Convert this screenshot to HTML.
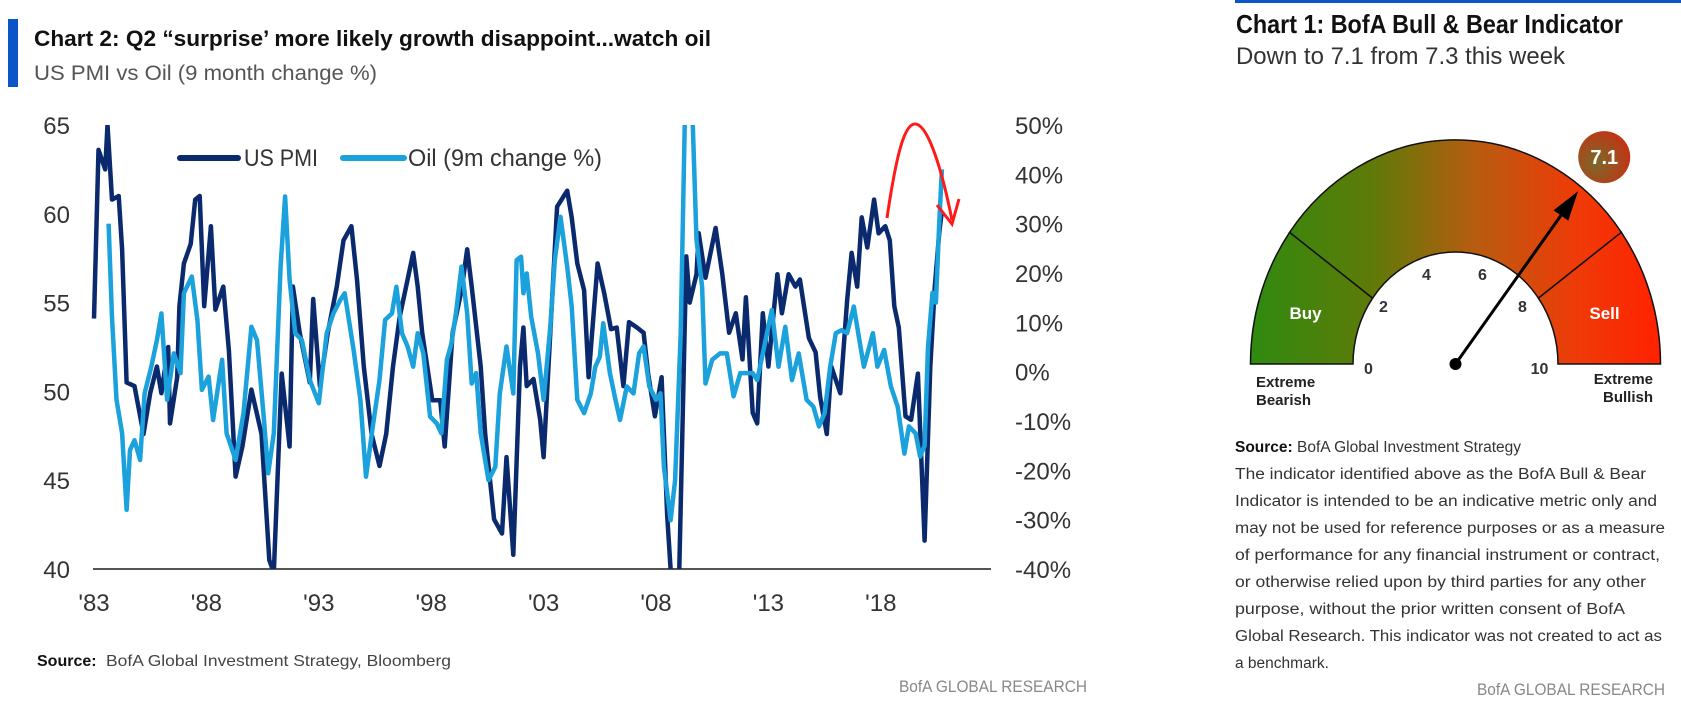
<!DOCTYPE html>
<html><head><meta charset="utf-8"><style>
html,body{margin:0;padding:0;background:#fff;}
svg{display:block;font-family:"Liberation Sans",sans-serif;}
</style></head><body>
<svg id="root" width="1681" height="717" viewBox="0 0 1681 717" xmlns="http://www.w3.org/2000/svg">
<defs>
  <clipPath id="plotclip"><rect x="80" y="125" width="920" height="444"/></clipPath>
  <linearGradient id="gaugeGrad" gradientUnits="userSpaceOnUse" x1="-205" y1="0" x2="205" y2="0">
    <stop offset="0" stop-color="#2f8a10"/>
    <stop offset="0.3" stop-color="#5f7a08"/>
    <stop offset="0.55" stop-color="#b85c10"/>
    <stop offset="0.8" stop-color="#f03a08"/>
    <stop offset="1" stop-color="#ff2200"/>
  </linearGradient>
  <radialGradient id="badgeGrad" cx="0.35" cy="0.6" r="0.8">
    <stop offset="0" stop-color="#7a6a2a"/>
    <stop offset="1" stop-color="#d02a10"/>
  </radialGradient>
</defs>

<!-- LEFT PANEL -->
<g>
  <rect x="8" y="19" width="10" height="68" fill="#0a55c8"/>
  <text x="34" y="46" font-size="22" font-weight="bold" fill="#111" textLength="677" lengthAdjust="spacingAndGlyphs">Chart 2:  Q2 “surprise’ more likely growth disappoint...watch oil</text>
  <text x="34" y="80" font-size="21" fill="#555" textLength="343" lengthAdjust="spacingAndGlyphs">US PMI vs Oil (9 month change %)</text>
  <g id="leftAxis"></g>
  <g id="rightAxis"></g>
  <g id="xAxis"></g>
  <line x1="93" y1="569" x2="991" y2="569" stroke="#555" stroke-width="2"/>
  <g clip-path="url(#plotclip)">
    <path id="pmiLine" fill="none" stroke="#0b2a6e" stroke-width="4.5" stroke-linejoin="round"/>
    <path id="oilLine" fill="none" stroke="#1ba1dc" stroke-width="4.5" stroke-linejoin="round"/>
  </g>
  <g>
    <g>
      <line x1="180" y1="158" x2="238" y2="158" stroke="#0b2a6e" stroke-width="6" stroke-linecap="round"/>
      <text x="244" y="166" font-size="24" fill="#333" textLength="74" lengthAdjust="spacingAndGlyphs">US PMI</text>
    </g>
    <g>
      <line x1="343" y1="158" x2="404" y2="158" stroke="#1ba1dc" stroke-width="6" stroke-linecap="round"/>
      <text x="408" y="166" font-size="24" fill="#333" textLength="194" lengthAdjust="spacingAndGlyphs">Oil (9m change %)</text>
    </g>
  </g>
  <g>
    <path d="M887,218 C897,150 905,124 915,124 C928,124 942,170 952,220" fill="none" stroke="#ff1a1a" stroke-width="3"/>
    <path d="M937,205 L952,224 L959,199" fill="none" stroke="#ff1a1a" stroke-width="3"/>
  </g>
  <text x="37" y="666" font-size="16" font-weight="bold" fill="#111">Source:</text>
  <text x="106" y="666" font-size="16" fill="#444" textLength="345" lengthAdjust="spacingAndGlyphs">BofA Global Investment Strategy, Bloomberg</text>
  <text x="899" y="692" font-size="17" fill="#888" textLength="188" lengthAdjust="spacingAndGlyphs">BofA GLOBAL RESEARCH</text>
</g>

<!-- RIGHT PANEL -->
<g>
  <rect x="1235" y="0" width="446" height="3" fill="#0a55c8"/>
  <text x="1236" y="33" font-size="26" font-weight="bold" fill="#111" textLength="387" lengthAdjust="spacingAndGlyphs">Chart 1: BofA Bull &amp; Bear Indicator</text>
  <text x="1236" y="64" font-size="24" fill="#333" textLength="329" lengthAdjust="spacingAndGlyphs">Down to 7.1  from 7.3 this week</text>
  <g id="gauge" transform="translate(1455.5,364)"></g>
  <g font-weight="bold" font-size="15" fill="#222">
    <text x="1256" y="387">Extreme</text>
    <text x="1256" y="405">Bearish</text>
    <text x="1653" y="384" text-anchor="end">Extreme</text>
    <text x="1653" y="402" text-anchor="end">Bullish</text>
  </g>
  <g font-size="15.5" fill="#333">
    <text x="1235" y="452"><tspan font-weight="bold" fill="#111">Source:</tspan>  BofA Global Investment Strategy</text>
    <text x="1235" y="479" textLength="411" lengthAdjust="spacingAndGlyphs">The indicator identified above as the BofA Bull &amp; Bear</text>
    <text x="1235" y="506" textLength="422" lengthAdjust="spacingAndGlyphs">Indicator is intended to be an indicative metric only and</text>
    <text x="1235" y="533" textLength="430" lengthAdjust="spacingAndGlyphs">may not be used for reference purposes or as a measure</text>
    <text x="1235" y="560" textLength="425" lengthAdjust="spacingAndGlyphs">of performance for any financial instrument or contract,</text>
    <text x="1235" y="587" textLength="411" lengthAdjust="spacingAndGlyphs">or otherwise relied upon by third parties for any other</text>
    <text x="1235" y="614" textLength="390" lengthAdjust="spacingAndGlyphs">purpose, without the prior written consent of BofA</text>
    <text x="1235" y="641" textLength="427" lengthAdjust="spacingAndGlyphs">Global Research. This indicator was not created to act as</text>
    <text x="1235" y="668">a benchmark.</text>
  </g>
  <text x="1665" y="695" text-anchor="end" font-size="17" fill="#888" textLength="188" lengthAdjust="spacingAndGlyphs">BofA GLOBAL RESEARCH</text>
</g>
</svg>
<script>
const pmiDates=[1983.0,1983.2,1983.5,1983.6,1983.8,1984.1,1984.25,1984.45,1984.8,1985.2,1985.5,1985.8,1986.0,1986.3,1986.38,1986.7,1986.8,1987.0,1987.3,1987.5,1987.7,1987.9,1988.2,1988.4,1988.75,1989.0,1989.3,1989.6,1990.0,1990.45,1990.8,1991.0,1991.35,1991.7,1991.85,1992.15,1992.6,1992.75,1993.05,1993.4,1993.8,1994.1,1994.45,1994.7,1995.0,1995.35,1995.7,1996.0,1996.3,1996.6,1996.95,1997.2,1997.4,1997.6,1998.05,1998.4,1998.6,1998.95,1999.35,1999.6,1999.8,2000.2,2000.4,2000.8,2001.15,2001.35,2001.65,2001.95,2002.1,2002.25,2002.55,2002.85,2003.0,2003.3,2003.6,2004.05,2004.25,2004.5,2004.8,2005.0,2005.4,2005.7,2006.0,2006.25,2006.55,2006.8,2007.15,2007.45,2007.65,2007.95,2008.25,2008.5,2008.8,2009.0,2009.35,2009.5,2009.8,2009.9,2010.2,2010.65,2010.95,2011.25,2011.55,2011.85,2012.0,2012.3,2012.5,2012.75,2013.0,2013.4,2013.6,2013.9,2014.2,2014.4,2014.8,2015.1,2015.3,2015.6,2015.8,2016.2,2016.5,2016.7,2016.95,2017.15,2017.4,2017.7,2017.9,2018.2,2018.4,2018.6,2018.8,2019.1,2019.35,2019.65,2019.95,2020.2,2020.4,2020.6,2020.7];
const pmiValues=[54.1,63.6,62.5,65,60.8,61,58,50.5,50.3,47.6,49.9,51.4,49.9,52.5,48.2,50.8,54.8,57.2,58.3,60.8,61,54.8,59.3,54.6,55.9,52.3,45.2,46.9,50.1,47.6,40.5,39.8,51,46.9,55.9,53.3,50.5,55.2,50.3,53.3,55.9,58.5,59.3,56.3,51.4,47.6,45.8,47.6,51.4,54.2,56.3,57.8,55.9,53.3,49.5,49.5,46.9,53.3,55.7,58,55.9,51.4,47.6,42.8,42,46.3,40.8,51.4,53.6,50.3,50.7,48.4,46.3,53.3,60.4,61.3,59.8,57.2,55.7,50.8,57.2,55.5,53.5,53.6,50.3,53.9,53.6,53.3,51,48.6,50.8,43,37,38,57.6,55,56.6,58.9,56.4,59.2,56.6,53.3,54.4,51.8,55.3,48.8,48.2,54.4,51.4,56.6,54.4,56.6,55.9,56.3,53.0,52.2,49.7,47.6,51.4,49.9,55.1,57.8,55.9,59.8,58.1,60.8,58.9,59.3,58.5,54.8,53.6,48.6,48.4,51.0,41.6,51.4,55.9,58.9,60];
const oilDates=[1983.65,1983.8,1984.0,1984.25,1984.45,1984.6,1984.8,1985.05,1985.25,1985.55,1985.8,1986.0,1986.25,1986.55,1986.85,1987.0,1987.35,1987.6,1987.8,1988.1,1988.3,1988.7,1988.9,1989.3,1989.65,1990.0,1990.25,1990.55,1990.75,1991.0,1991.3,1991.5,1991.7,1991.95,1992.25,1992.6,1993.0,1993.35,1993.65,1993.95,1994.15,1994.55,1994.85,1995.1,1995.4,1995.7,1995.95,1996.25,1996.45,1996.7,1996.95,1997.2,1997.4,1997.65,1997.95,1998.25,1998.45,1998.7,1998.9,1999.1,1999.35,1999.6,1999.8,2000.0,2000.2,2000.55,2000.85,2001.05,2001.35,2001.65,2001.8,2002.0,2002.1,2002.25,2002.45,2002.75,2003.0,2003.3,2003.5,2003.75,2004.05,2004.25,2004.5,2004.8,2005.1,2005.3,2005.5,2005.65,2005.95,2006.2,2006.4,2006.7,2007.0,2007.25,2007.45,2007.7,2008.0,2008.2,2008.35,2008.65,2008.85,2009.1,2009.3,2009.6,2009.8,2010.05,2010.2,2010.5,2010.85,2011.15,2011.45,2011.75,2012.0,2012.3,2012.5,2012.75,2013.15,2013.45,2013.75,2014.05,2014.35,2014.7,2015.0,2015.25,2015.5,2015.75,2016.0,2016.25,2016.5,2016.8,2017.05,2017.25,2017.65,2017.85,2018.15,2018.45,2018.75,2019.05,2019.25,2019.55,2019.75,2019.95,2020.1,2020.3,2020.45,2020.6,2020.72];
const oilValues=[30,11,-5.7,-12.5,-28,-15.9,-13.9,-17.9,-4.4,1,6.4,11.8,-5.7,3.7,-0.3,15.9,19.3,10.5,-3.7,-1,-9.8,2.4,-12.5,-17.9,-8.4,9.1,6.4,-9.1,-20.6,-12.5,21.3,35.5,18.6,7.8,6.4,-1.7,-6.4,7.8,11.8,14.5,15.9,4.4,-5.7,-21.3,-11.1,-1.7,10.5,11.8,17.2,7.8,5.1,1,7.8,3.7,-9.1,-10.5,-12.5,2.4,5.7,11.8,21.3,11.8,-2.4,-0.3,-12.5,-22,-19.3,-4.4,5.1,-4.4,22.6,23.3,15.9,19.9,11.1,3.7,-5.7,9.1,22.6,31.4,21.3,13.2,-5.7,-8.4,-4.4,1,3,9.8,-0.3,-5.7,-9.8,-3,-4.4,3.7,5.1,-3,-5.7,-4.4,-19.3,-30.1,-22,7.8,55,55,26.7,17.2,-2.4,2.4,3.7,3.7,-5,-0.3,-0.3,-0.3,-1.7,3.7,12.5,1,9.1,-1.7,3.7,-5.7,-7.1,-11.1,-8.4,1,7.8,8.4,7.8,13.2,6.4,1,7.8,1,4.4,-3,-7.1,-16.6,-11.1,-12.5,-17.2,-15,5,16,14,30,41];
const leftTicks=[65,60,55,50,45,40];
const rightTicks=[50,40,30,20,10,0,-10,-20,-30,-40];
const rightTickLabels=["50%","40%","30%","20%","10%","0%","-10%","-20%","-30%","-40%"];
const xTickYears=[1983,1988,1993,1998,2003,2008,2013,2018];
const xTickLabels=["'83","'88","'93","'98","'03","'08","'13","'18"];
const gaugeValue=7.1;
const gaugeTicks=[0,2,4,6,8,10];

const NS="http://www.w3.org/2000/svg";
function xScale(t){return 94+(t-1983)*22.48;}
function yLeft(v){return 125+(65-v)*(444/25);}
function yRight(v){return 125+(50-v)*(444/90);}
function mk(tag,attrs,parent){const e=document.createElementNS(NS,tag);for(const k in attrs)e.setAttribute(k,attrs[k]);parent.appendChild(e);return e;}

const la=document.getElementById('leftAxis');
leftTicks.forEach(v=>{const t=mk('text',{x:70,y:yLeft(v)+9,'text-anchor':'end','font-size':24,fill:'#333'},la);t.textContent=v;

});
const ra=document.getElementById('rightAxis');
rightTicks.forEach((v,i)=>{const t=mk('text',{x:1015,y:yRight(v)+9,'font-size':24,fill:'#333'},ra);t.textContent=rightTickLabels[i];

});
const xa=document.getElementById('xAxis');
xTickYears.forEach((yv,i)=>{const t=mk('text',{x:xScale(yv),y:611,'text-anchor':'middle','font-size':24,fill:'#333'},xa);t.textContent=xTickLabels[i];

});

document.getElementById('pmiLine').setAttribute('d',pmiDates.map((t,i)=>(i?'L':'M')+xScale(t).toFixed(1)+','+yLeft(pmiValues[i]).toFixed(1)).join(''));
document.getElementById('oilLine').setAttribute('d',oilDates.map((t,i)=>(i?'L':'M')+xScale(t).toFixed(1)+','+yRight(oilValues[i]).toFixed(1)).join(''));

// Gauge
const g=document.getElementById('gauge');
const S=1.093, RO=205, RI=102.5;
function pt(v,r){const a=Math.PI*(1-v/10);return [r*Math.cos(a),-r*Math.sin(a)*S];}
function sector(v0,v1){const a=pt(v0,RO),b=pt(v1,RO),c=pt(v1,RI),d=pt(v0,RI);
return `M${a}A${RO},${RO*S} 0 0 1 ${b}L${c}A${RI},${RI*S} 0 0 0 ${d}Z`;}
const s1=mk('path',{d:sector(0,2),fill:'url(#gaugeGrad)',stroke:'#111','stroke-width':1.5},g);


const s2=mk('path',{d:sector(2,8),fill:'url(#gaugeGrad)',stroke:'#111','stroke-width':1.5},g);


const s3=mk('path',{d:sector(8,10),fill:'url(#gaugeGrad)',stroke:'#111','stroke-width':1.5},g);


const lblPos={0:[-87,10],2:[-72,-52],4:[-29,-84],6:[27,-84],8:[67,-52],10:[84,10]};
gaugeTicks.forEach(v=>{const p=lblPos[v];const t=mk('text',{x:p[0],y:p[1],'text-anchor':'middle','font-size':16,'font-weight':'bold',fill:'#333'},g);t.textContent=v;

});
const buy=mk('text',{x:-150,y:-45,'text-anchor':'middle','font-size':17,'font-weight':'bold',fill:'#fff'},g);buy.textContent='Buy';


const sell=mk('text',{x:149,y:-45,'text-anchor':'middle','font-size':17,'font-weight':'bold',fill:'#fff'},g);sell.textContent='Sell';


const tip=pt(gaugeValue,200), base=pt(gaugeValue,172);
const ang=Math.atan2(tip[1],tip[0]);
const nx=-Math.sin(ang)*9, ny=Math.cos(ang)*9;
const nd=mk('line',{x1:0,y1:0,x2:base[0],y2:base[1],stroke:'#000','stroke-width':3},g);


const ah=mk('path',{d:`M${tip}L${base[0]+nx},${base[1]+ny}L${base[0]-nx},${base[1]-ny}Z`,fill:'#000'},g);


const hub=mk('circle',{cx:0,cy:0,r:6,fill:'#000'},g);


const bp=pt(gaugeValue,228);
const badge=mk('circle',{cx:bp[0]+9,cy:bp[1]-10,r:26,fill:'url(#badgeGrad)'},g);


const bt=mk('text',{x:bp[0]+9,y:bp[1]-3,'text-anchor':'middle','font-size':20,'font-weight':'bold',fill:'#fff'},g);bt.textContent=gaugeValue.toFixed(1);


</script>
</body></html>
